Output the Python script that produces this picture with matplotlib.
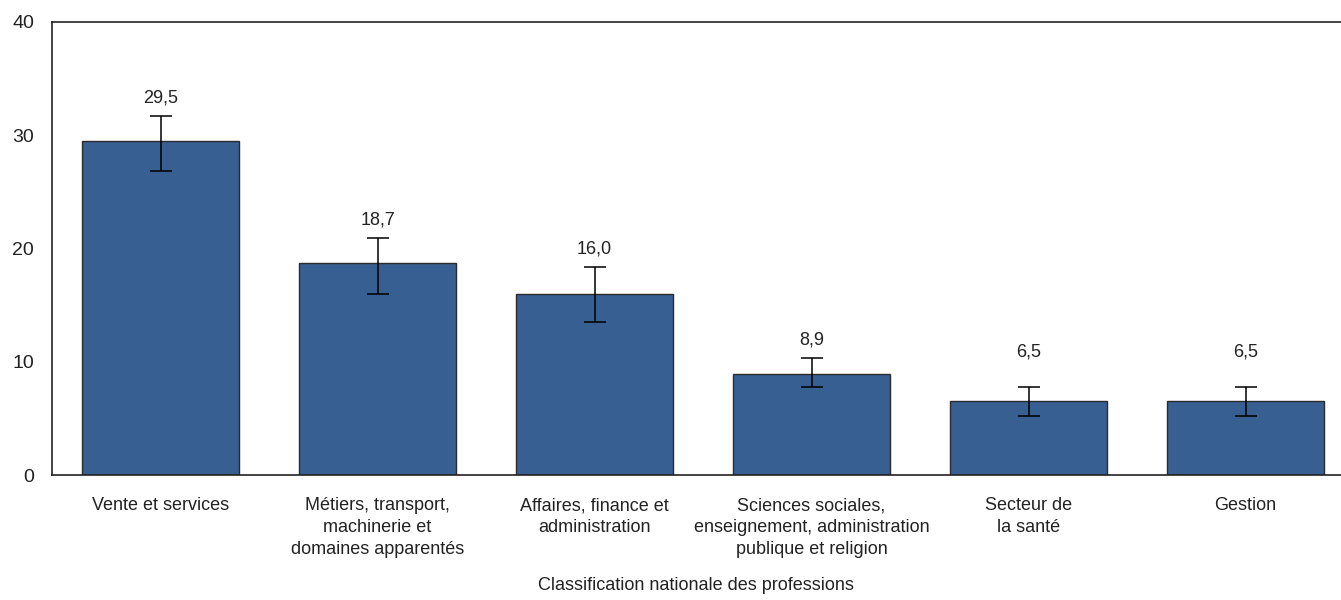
import matplotlib
matplotlib.use("Agg")
import matplotlib.pyplot as plt
from matplotlib import font_manager

categories = [
    "Vente et services",
    "Métiers, transport,\nmachinerie et\ndomaines apparentés",
    "Affaires, finance et\nadministration",
    "Sciences sociales,\nenseignement, administration\npublique et religion",
    "Secteur de\nla santé",
    "Gestion",
]
values = [29.5, 18.7, 16.0, 8.9, 6.5, 6.5]
err_low = [2.7, 2.7, 2.5, 1.1, 1.3, 1.3]
err_high = [2.2, 2.2, 2.4, 1.4, 1.3, 1.3]
value_labels = ["29,5", "18,7", "16,0", "8,9", "6,5", "6,5"]
yticks = [0, 10, 20, 30, 40]
xlabel = "Classification nationale des professions"

names = {f.name for f in font_manager.fontManager.ttflist}
fam = "Liberation Sans Narrow" if "Liberation Sans Narrow" in names else "Liberation Sans"
plt.rcParams["font.family"] = [fam, "DejaVu Sans"]

fig = plt.figure(figsize=(13.41, 6.0), dpi=100)
ax = fig.add_axes([52 / 1341, 125 / 600, 1302 / 1341, 453 / 600])

x = list(range(len(categories)))
ax.bar(x, values, width=0.72, color="#375F91", edgecolor="#2b2b2b", linewidth=1.0, zorder=2)
ax.errorbar(x, values, yerr=[err_low, err_high], fmt="none", ecolor="black",
            elinewidth=1.1, capsize=8, capthick=1.1, zorder=3)

for xi, v, eh, lab in zip(x, values, err_high, value_labels):
    ytxt = max(v + eh + 1.6, 10.9)
    ax.text(xi, ytxt, lab, ha="center", va="center", fontsize=13, color="#222222")

ax.set_xlim(-0.5, 5.5)
ax.set_ylim(0, 40)
ax.set_yticks(yticks)
ax.set_yticklabels([str(t) for t in yticks], fontsize=14, color="#222222")
ax.set_xticks(x)
ax.set_xticklabels(categories, fontsize=13, color="#222222", linespacing=1.38, va="top")
ax.tick_params(axis="both", length=0)
ax.tick_params(axis="y", pad=13)
ax.tick_params(axis="x", pad=16)

for s in ["left", "bottom", "top"]:
    ax.spines[s].set_color("#222222")
    ax.spines[s].set_linewidth(1.2)
ax.spines["right"].set_visible(False)

fig.text(696 / 1341, 1 - 585 / 600, xlabel, ha="center", va="center", fontsize=13, color="#222222")

fig.savefig("out.png", dpi=100)
